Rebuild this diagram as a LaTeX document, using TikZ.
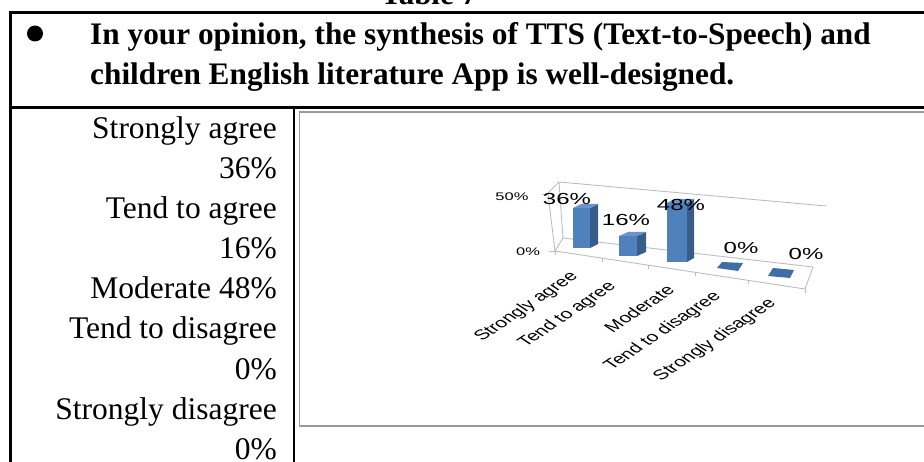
\documentclass[tikz,border=0pt]{standalone}
\usepackage{fontspec}
\setmainfont{Liberation Serif}
\setsansfont{Liberation Sans}
\usepackage{graphicx}
\definecolor{barfront}{HTML}{4F81BD}
\definecolor{barside}{HTML}{385D8A}
\definecolor{bartop}{HTML}{6A95CB}
\definecolor{barflat}{HTML}{3F6DA5}
\definecolor{gridc}{HTML}{BDBDBD}
\definecolor{framec}{HTML}{9A9A9A}
\newcommand{\chartw}[1]{\scalebox{1.5}[1]{#1}}
\begin{document}
\begin{tikzpicture}[x=1pt,y=-1pt,
  tbl/.style={line width=2.4pt,black},
  hdr/.style={font=\bfseries\fontsize{31.3}{40}\selectfont, inner sep=0pt, anchor=base west},
  lft/.style={font=\fontsize{31.5}{40}\selectfont, inner sep=0pt, anchor=base east},
  val/.style={font=\sffamily\fontsize{16}{16}\selectfont, inner sep=0pt},
  axl/.style={font=\sffamily\fontsize{11}{11}\selectfont, inner sep=0pt},
  cat/.style={font=\sffamily\fontsize{14}{14}\selectfont, inner sep=0pt, anchor=north east},
  gridl/.style={draw=gridc, line width=0.9pt},
  front/.style={fill=barfront},
  side/.style={fill=barside},
  topf/.style={fill=bartop}]
\useasboundingbox (0,0) rectangle (924,462);
\clip (0,0) rectangle (924,462);

% title (cut at top edge)
\node[font=\bfseries\fontsize{31}{31}\selectfont, inner sep=0pt, anchor=base] (title) at (429,5) {Table 7};

% table rules
\draw[tbl] (10.5,470) -- (10.5,12.5) -- (935,12.5);
\draw[tbl] (10.5,107.5) -- (935,107.5);
\draw[tbl] (294,107.5) -- (294,470);

% header
\node[circle, fill=black, inner sep=0pt, minimum size=16pt] (bullet) at (35,33.5) {};
\node[hdr] (q1) at (90,45) {In your opinion, the synthesis of TTS (Text-to-Speech) and};
\node[hdr] (q2) at (90,85) {children English literature App is well-designed.};

% left column
\node[lft] (l1) at (277,139) {Strongly agree};
\node[lft] (l2) at (277,179) {36\%};
\node[lft] (l3) at (277,219) {Tend to agree};
\node[lft] (l4) at (277,259) {16\%};
\node[lft] (l5) at (277,299) {Moderate 48\%};
\node[lft] (l6) at (277,339) {Tend to disagree};
\node[lft] (l7) at (277,379) {0\%};
\node[lft] (l8) at (277,419) {Strongly disagree};
\node[lft] (l9) at (277,459) {0\%};

% chart frame
\draw[draw=framec, line width=1.6pt] (299.5,112.3) rectangle (940,426);

% chart walls and floor
\draw[gridl] (547,194) -- (559,182) -- (826,206);
\draw[gridl] (548,194) -- (555,251);
\draw[gridl] (559,182) -- (563,238);
\draw[gridl] (555,251) -- (563,238) -- (813,267) -- (805,289) -- cycle;
\draw[gridl] (542,194) -- (548,194);
\draw[gridl] (549,251) -- (555,251);
\draw[gridl] (555,251) -- (555,255);
\draw[gridl] (602,258.1) -- (602,262.1);
\draw[gridl] (648,265.1) -- (648,269.1);
\draw[gridl] (695,272.3) -- (695,276.3);
\draw[gridl] (748,280.4) -- (748,284.4);
\draw[gridl] (805,289) -- (805,293);

% bars
\fill[front] (573,208) rectangle (590,248);
\fill[side] (590,208) -- (598,204) -- (598,244) -- (590,248) -- cycle;
\fill[topf] (573,208) -- (581,204) -- (598,204) -- (590,208) -- cycle;

\fill[front] (619,236) rectangle (637,256);
\fill[side] (637,236) -- (646,232) -- (646,252) -- (637,256) -- cycle;
\fill[topf] (619,236) -- (628,232) -- (646,232) -- (637,236) -- cycle;

\fill[front] (667,203) rectangle (687,262);
\fill[side] (687,203) -- (694,199) -- (694,258) -- (687,262) -- cycle;
\fill[topf] (667,203) -- (674,199) -- (694,199) -- (687,203) -- cycle;

\fill[barflat] (717,268) -- (738,271) -- (743,263) -- (722,262) -- cycle;
\fill[barflat] (768,276) -- (790,278) -- (794,270) -- (773,268) -- cycle;

% axis labels
\node[axl] (a50) at (512,197) {\chartw{50\%}};
\node[axl] (a0) at (528,252) {\chartw{0\%}};

% value labels
\node[val] (v1) at (567,199) {\chartw{36\%}};
\node[val] (v2) at (626,220) {\chartw{16\%}};
\node[val] (v3) at (681,205) {\chartw{48\%}};
\node[val] (v4) at (741,248) {\chartw{0\%}};
\node[val] (v5) at (806,254) {\chartw{0\%}};

% category labels
\node[cat] (c1) at (582,270) {\chartw{\rotatebox{45}{Strongly agree}}};
\node[cat] (c2) at (620,280) {\chartw{\rotatebox{45}{Tend to agree}}};
\node[cat] (c3) at (676,284) {\chartw{\rotatebox{45}{Moderate}}};
\node[cat] (c4) at (725,290) {\chartw{\rotatebox{45}{Tend to disagree}}};
\node[cat] (c5) at (780,297) {\chartw{\rotatebox{45}{Strongly disagree}}};
\end{tikzpicture}
\end{document}
